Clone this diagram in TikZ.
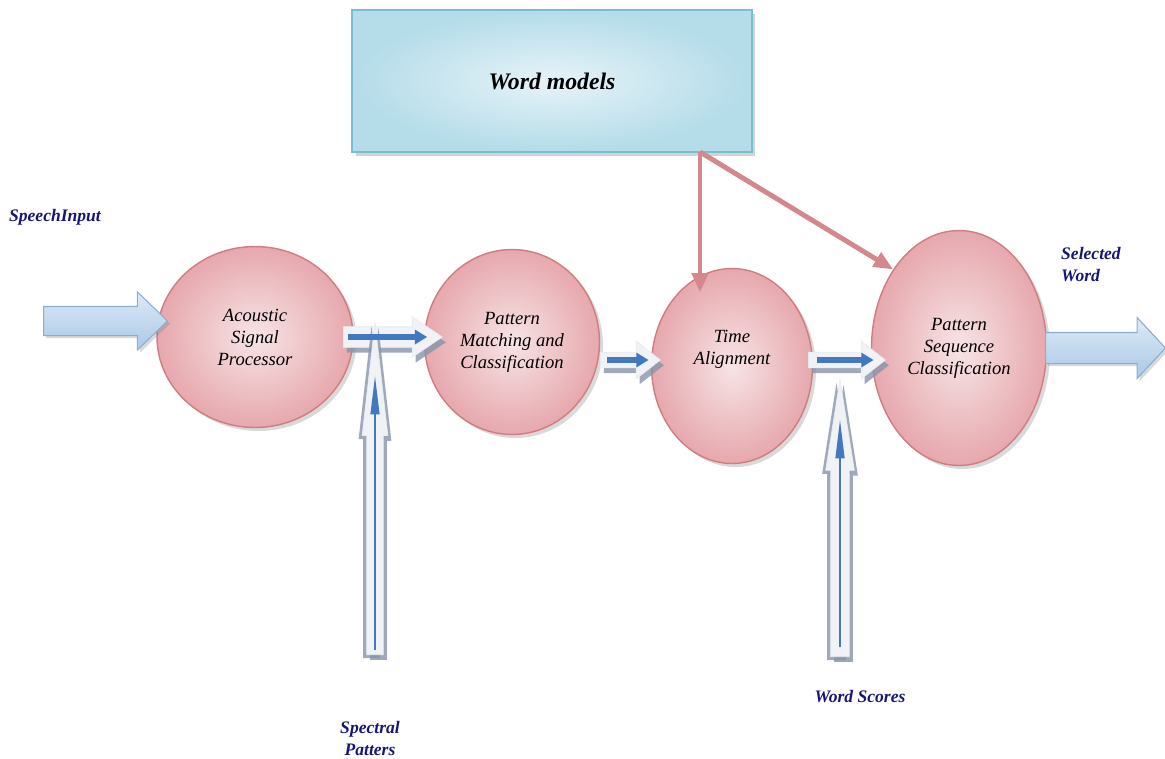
\documentclass[tikz,border=0pt]{standalone}
\usepackage{fontspec}
\setmainfont{Liberation Serif}
\usetikzlibrary{shapes.geometric, shapes.arrows, arrows.meta, positioning, calc, shadows}
\definecolor{stageborder}{RGB}{208, 125, 130}
\definecolor{stagein}{RGB}{247, 228, 230}
\definecolor{stageout}{RGB}{230, 168, 173}
\definecolor{modelsborder}{RGB}{120, 190, 210}
\definecolor{modelsin}{RGB}{230, 243, 248}
\definecolor{modelsout}{RGB}{180, 220, 233}
\definecolor{bigborder}{RGB}{140, 172, 208}
\definecolor{bigtop}{RGB}{220, 234, 247}
\definecolor{bigbottom}{RGB}{170, 200, 230}
\definecolor{gapfill}{RGB}{240, 242, 246}
\definecolor{gapborder}{RGB}{232, 235, 240}
\definecolor{gapshadow}{RGB}{135, 148, 170}
\definecolor{flowblue}{RGB}{66, 120, 192}
\definecolor{pinkline}{RGB}{212, 135, 140}
\definecolor{labelblue}{RGB}{22, 22, 120}

\begin{document}
\begin{tikzpicture}[
    x=0.02cm, y=-0.02cm,
    stage/.style={ellipse, draw=stageborder, line width=0.8pt, inner color=stagein, outer color=stageout, inner sep=0pt, align=center, font=\fontsize{10.6}{12.5}\selectfont\itshape, drop shadow={shadow xshift=2pt, shadow yshift=-2pt, opacity=0.3}},
    models/.style={rectangle, draw=modelsborder, line width=1pt, inner color=modelsin, outer color=modelsout, minimum width=8cm, minimum height=2.84cm, font=\fontsize{13.5}{16}\selectfont\bfseries\itshape, drop shadow={shadow xshift=2pt, shadow yshift=-2pt, opacity=0.35}},
    bigarrow/.style={single arrow, draw=bigborder, line width=0.6pt, top color=bigtop, bottom color=bigbottom, inner xsep=0pt, anchor=tail, drop shadow={shadow xshift=1.5pt, shadow yshift=-1.5pt, opacity=0.3}},
    gaparrow/.style={single arrow, draw=gapborder, fill=gapfill, inner xsep=0pt, anchor=tail, drop shadow={shadow xshift=2pt, shadow yshift=-3pt, fill=gapshadow, opacity=0.8}},
    risearrow/.style={gaparrow, rotate=90, drop shadow={shadow xshift=-2pt, shadow yshift=-2pt, fill=gapshadow, opacity=0.8}},
    flow/.style={-{Triangle[length=7pt, width=8pt]}, line width=3.2pt, draw=flowblue},
    thinflow/.style={-{Triangle[length=22pt, width=5pt]}, line width=1.1pt, draw=flowblue},
    modelarrow/.style={-{Triangle[length=11pt, width=9pt]}, line width=2.8pt, draw=pinkline},
    label/.style={font=\fontsize{10}{12.5}\selectfont\bfseries\itshape, text=labelblue, align=center}
]
    \useasboundingbox (0,0) rectangle (1165,758);

    % Word models
    \node[models] (models) at (552,81) {Word models};
    \coordinate (wmout) at (700,152);

    % Stages
    \node[stage, minimum width=3.92cm, minimum height=3.62cm] (acoustic) at (255,337) {Acoustic\\Signal\\Processor};
    \node[stage, minimum width=3.5cm, minimum height=3.7cm] (matching) at (512,342) {Pattern\\Matching and\\Classification};
    \node[stage, minimum width=3.22cm, minimum height=3.9cm, text depth=21pt] (talign) at (732,366) {Time\\Alignment};
    \node[stage, minimum width=3.5cm, minimum height=4.7cm] (pseq) at (959,348) {Pattern\\Sequence\\Classification};

    % Input and output
    \node[bigarrow, inner ysep=0.28cm, minimum height=2.48cm, single arrow head extend=0.29cm, single arrow tip angle=88] (speech) at (43,321) {};
    \node[bigarrow, inner ysep=0.3cm, minimum height=2.4cm, single arrow head extend=0.3cm, single arrow tip angle=94] (selected) at (1045,348) {};

    % Between the stages
    \node[gaparrow, inner ysep=0.2cm, minimum height=1.98cm, single arrow head extend=0.2cm, single arrow tip angle=68] (gap1) at (343,337) {};
    \node[gaparrow, inner ysep=0.15cm, minimum height=1.2cm, single arrow head extend=0.22cm, single arrow tip angle=76] (gap2) at (600,360) {};
    \node[gaparrow, inner ysep=0.15cm, minimum height=1.54cm, single arrow head extend=0.22cm, single arrow tip angle=76] (gap3) at (808,360) {};

    % Spectral patterns and word scores
    \node[risearrow, inner ysep=0.16cm, minimum height=6.64cm, single arrow head extend=0.09cm, single arrow tip angle=13] (spectral) at (375,655) {};
    \node[risearrow, inner ysep=0.18cm, minimum height=5.54cm, single arrow head extend=0.1cm, single arrow tip angle=18] (scores) at (840,657) {};

    % Arrows
    \draw[flow, shorten <=2.8pt, shorten >=9pt] (gap1.tail) -- (gap1.tip);
    \draw[flow, shorten <=4pt, shorten >=7pt] (gap2.tail) -- (gap2.tip);
    \draw[flow, shorten <=5pt, shorten >=7pt] (gap3.tail) -- (gap3.tip);
    \draw[thinflow, shorten <=3pt, shorten >=32pt] (spectral.tail) -- (spectral.tip);
    \draw[thinflow, shorten <=5.7pt, shorten >=24pt] (scores.tail) -- (scores.tip);

    \draw[modelarrow, shorten >=-14pt] (wmout) -- (wmout |- talign.north);
    \draw[modelarrow] (wmout) -- (pseq.130);

    % Labels
    \node[label] (speechlbl) at (55,217) {SpeechInput};
    \node[label, align=left, anchor=west] (selectedlbl) at (1055,265) {Selected\\Word};
    \node[label] (spectrallbl) at (370,738) {Spectral\\Patters};
    \node[label] (scoreslbl) at (860,697) {Word Scores};

\end{tikzpicture}
\end{document}
